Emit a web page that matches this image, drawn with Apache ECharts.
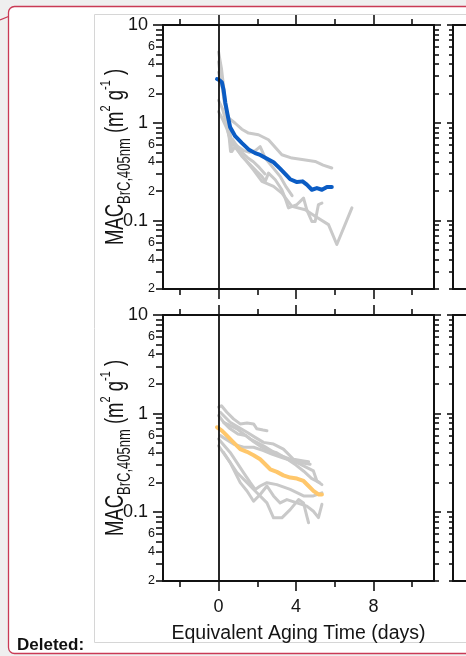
<!DOCTYPE html>
<html><head><meta charset="utf-8">
<script src="https://cdn.jsdelivr.net/npm/echarts@6/dist/echarts.min.js"></script>
<style>html,body{margin:0;padding:0;background:#efefef}#c{width:466px;height:656px}</style>
</head><body><div id="c"></div>
<script>
// ---- tick / label values ----
const xMajorTicks = [0, 4, 8];
const xMinorTicks = [-2, 2, 6, 10];
const yMajorTicks = [0.1, 1, 10];
const yMinorTicks = [0.02,0.03,0.04,0.05,0.06,0.07,0.08,0.09,0.2,0.3,0.4,0.5,0.6,0.7,0.8,0.9,2,3,4,5,6,7,8,9];
const yMinorLabels = [0.02,0.04,0.06,0.2,0.4,0.6,2,4,6];
const xTitle = 'Equivalent Aging Time (days)';

// ---- top panel: individual (grey) and mean (blue) ----
const topMean = [[-0.08,2.8],[0.05,2.72],[0.17,2.6],[0.26,2.17],[0.35,1.6],[0.47,1.2],[0.6,0.9],[0.86,0.73],[1.21,0.62],[1.55,0.535],[1.89,0.49],[2.15,0.47],[2.41,0.44],[2.84,0.395],[3.18,0.34],[3.44,0.3],[3.7,0.265],[4.05,0.248],[4.34,0.252],[4.56,0.233],[4.82,0.207],[5.08,0.215],[5.34,0.207],[5.6,0.221],[5.85,0.221]];
const topGrey1 = [[0,4.2],[0.15,2.6],[0.3,1.6],[0.52,1.12],[0.86,0.99],[1.2,0.86],[1.55,0.785],[2.06,0.755],[2.58,0.671],[3.27,0.471],[3.79,0.436],[4.4,0.42],[4.99,0.403],[5.4,0.37],[5.85,0.345]];
const topGrey2 = [[0,5.3],[0.15,3.6],[0.3,2.0],[0.45,1.0],[0.6,0.645],[0.69,0.51],[0.86,0.573],[1.21,0.453],[1.64,0.373],[1.98,0.318],[2.24,0.283],[2.41,0.252],[2.58,0.306],[2.93,0.262],[3.27,0.207],[3.44,0.17],[3.61,0.135],[4.05,0.146],[4.39,0.17],[4.56,0.129],[4.82,0.098],[4.99,0.098],[5.16,0.146],[5.34,0.151]];
const topGrey3 = [[0,1.3],[0.2,1.1],[0.4,0.9],[0.6,0.7],[0.9,0.55],[1.38,0.419],[1.8,0.33],[2.24,0.252],[2.84,0.224],[3.27,0.191],[3.79,0.14],[4.48,0.129],[4.99,0.111],[5.68,0.091],[6.11,0.057],[6.89,0.135]];
const topGrey4 = [[0,3.3],[0.2,2.3],[0.4,1.4],[0.55,0.85],[0.7,0.62],[0.95,0.58],[1.3,0.52],[1.6,0.5],[1.9,0.52],[2.15,0.57],[2.4,0.44],[2.8,0.35],[3.2,0.28],[3.5,0.22],[3.8,0.18]];
const topGrey5 = [[0,1.7],[0.2,1.4],[0.4,1.0],[0.55,0.7],[0.62,0.51],[0.72,0.68],[0.9,0.6],[1.2,0.5],[1.5,0.44],[1.8,0.4],[2.1,0.35],[2.4,0.3]];

// ---- bottom panel: individual (grey) and mean (orange) ----
const botMean = [[-0.08,0.726],[0.17,0.671],[0.43,0.597],[0.77,0.51],[1.12,0.436],[1.47,0.409],[1.81,0.378],[2.15,0.344],[2.41,0.306],[2.67,0.272],[3.01,0.256],[3.35,0.236],[3.7,0.224],[4.05,0.219],[4.39,0.207],[4.65,0.184],[4.9,0.164],[5.16,0.151],[5.34,0.151]];
const botGrey1 = [[0,1.16],[0.15,1.2],[0.43,1.03],[0.77,0.883],[1.12,0.785],[1.47,0.8],[1.81,0.785],[1.98,0.7],[2.3,0.68],[2.5,0.67]];
const botGrey2 = [[0.09,1.03],[0.6,0.815],[1.03,0.726],[1.47,0.645],[1.89,0.573],[2.32,0.51],[2.84,0.49],[3.35,0.436],[3.87,0.344],[4.39,0.331],[4.65,0.325]];
const botGrey3 = [[0.26,0.815],[0.95,0.7],[1.64,0.552],[2.32,0.471],[3.01,0.388],[3.7,0.344],[4.39,0.294],[4.9,0.262],[5.08,0.207],[5.34,0.19]];
const botGrey4 = [[0,0.552],[0.6,0.403],[0.95,0.318],[1.29,0.252],[1.64,0.199],[1.89,0.17],[2.15,0.184],[2.5,0.199],[3.01,0.19],[3.7,0.17],[4.39,0.146],[4.9,0.146],[5.34,0.157]];
const botGrey5 = [[0,0.471],[0.6,0.318],[1.12,0.199],[1.47,0.164],[1.81,0.129],[2.15,0.151],[2.5,0.184],[2.84,0.146],[3.18,0.124],[3.53,0.134],[4.05,0.124],[4.56,0.115],[4.9,0.102],[5.16,0.088],[5.34,0.12]];
const botGrey6 = [[0.26,0.403],[0.95,0.252],[1.47,0.199],[1.98,0.157],[2.5,0.124],[2.84,0.0875],[3.27,0.0875],[3.7,0.106],[4.13,0.134],[4.39,0.124],[4.56,0.091],[4.65,0.078]];
const botGrey7 = [[0.09,0.597],[0.77,0.49],[1.29,0.455],[1.81,0.455],[2.32,0.42],[2.75,0.388],[3.27,0.358],[3.79,0.331],[4.22,0.318],[4.73,0.306]];
const botGrey8 = [[0,0.955],[0.3,0.8],[0.6,0.7],[1.0,0.62],[1.4,0.6],[1.8,0.52],[2.2,0.46],[2.6,0.42],[3.0,0.4],[3.5,0.35],[4.0,0.3],[4.4,0.26],[4.8,0.22],[5.2,0.2]];

// ---- styling ----
const FONT = 'Liberation Sans, Arial, sans-serif';
const AX = '#111';
const TXT = '#141414';
const GREY = '#c9c9c9';
const BLUE = '#0b5cc4';
const ORANGE = '#ffc76b';
const RED = '#c93a55';
const X_MIN = -2.87, X_MAX = 11.13;
const Y_MIN = 0.02, Y_MAX = 10;

const grids = [
  {left:163, top:25, width:271, height:264},
  {left:163, top:315, width:271, height:266},
  {left:453, top:25, width:120, height:264},
  {left:453, top:315, width:120, height:266}
];

const xAxes = [], yAxes = [];
function addX(g, pos, ticks, len, line, labels, extra) {
  xAxes.push(Object.assign({
    type:'value', gridIndex:g, position:pos, min:X_MIN, max:X_MAX,
    axisLine:{show:line, onZero:false, lineStyle:{color:AX, width:2}},
    axisTick:{show:ticks.length>0, customValues:ticks.length?ticks:undefined, length:len, inside:false, lineStyle:{color:AX, width:1.6}},
    axisLabel:labels ? {show:true, customValues:labels, fontSize:18, color:TXT, fontFamily:FONT, margin:17} : {show:false},
    splitLine:{show:false}
  }, extra||{}));
  return xAxes.length-1;
}
function addY(g, pos, ticks, len, line, labels, lab) {
  yAxes.push({
    type:'log', logBase:10, gridIndex:g, position:pos, min:Y_MIN, max:Y_MAX,
    axisLine:{show:line, onZero:false, lineStyle:{color:AX, width:2}},
    axisTick:{show:true, customValues:ticks, length:len, inside:false, lineStyle:{color:AX, width:1.6}},
    axisLabel:labels ? Object.assign({show:true, customValues:labels, color:TXT, fontFamily:FONT}, lab) : {show:false},
    splitLine:{show:false}, minorTick:{show:false}
  });
  return yAxes.length-1;
}
const majorFmt = v => String(+v.toPrecision(3));
const minorFmt = v => String(Math.round(v / Math.pow(10, Math.floor(Math.log10(v) + 1e-9))));

const panelAxes = [];
[0,1].forEach(g => {
  const xb = addX(g, 'bottom', xMajorTicks, 10, true, g===1 ? xMajorTicks : null,
    g===1 ? {name:xTitle, nameLocation:'middle', nameGap:43, nameTextStyle:{fontSize:19.5, color:TXT, fontFamily:FONT}} : null);
  addX(g, 'bottom', xMinorTicks, 6, false, null);
  addX(g, 'top', xMajorTicks, 10, true, null);
  addX(g, 'top', xMinorTicks, 6, false, null);
  const yl = addY(g, 'left', yMajorTicks, 10, true, yMajorTicks, {fontSize:18, margin:15, formatter:majorFmt});
  addY(g, 'left', yMinorTicks, 7, false, yMinorLabels, {fontSize:12.5, margin:8, formatter:minorFmt});
  addY(g, 'right', yMajorTicks, 7, true, null);
  addY(g, 'right', yMinorTicks, 5, false, null);
  panelAxes.push({x:xb, y:yl});
});
[2,3].forEach(g => {
  addX(g, 'bottom', [], 0, true, null);
  addX(g, 'top', [], 0, true, null);
  addY(g, 'left', yMajorTicks, 6, true, null);
  addY(g, 'left', yMinorTicks, 4, false, null);
});

const series = [];
function addLine(p, data, color, width, z, mark) {
  const s = {type:'line', xAxisIndex:panelAxes[p].x, yAxisIndex:panelAxes[p].y, data:data,
    showSymbol:false, symbol:'none', silent:true, z:z,
    lineStyle:{color:color, width:width, join:'round', cap:'round'}};
  if (mark) s.markLine = {silent:true, symbol:'none', label:{show:false},
    lineStyle:{color:AX, width:1.8, type:'solid'}, data:[{xAxis:0}]};
  series.push(s);
}
[topGrey1, topGrey2, topGrey3, topGrey4, topGrey5].forEach((d,i) => addLine(0, d, GREY, 3, 2, i===0));
addLine(0, topMean, BLUE, 4, 3);
[botGrey1, botGrey2, botGrey3, botGrey4, botGrey5, botGrey6, botGrey7, botGrey8].forEach((d,i) => addLine(1, d, GREY, 3, 2, i===0));
addLine(1, botMean, ORANGE, 4, 3);

function yTitle(cy) {
  return {type:'text', x:116, y:cy, rotation:Math.PI/2, scaleY:1.4, z:50,
    style:{text:'{a|MAC}{b|BrC,405nm}{a| (m}{c|2}{a| g}{c|-1}{a| )}', align:'center', verticalAlign:'middle',
      rich:{a:{fontSize:18.5, lineHeight:26, fontFamily:FONT, fill:TXT},
            b:{fontSize:13, lineHeight:18, verticalAlign:'bottom', fontFamily:FONT, fill:TXT},
            c:{fontSize:11, lineHeight:11, verticalAlign:'top', fontFamily:FONT, fill:TXT}}}};
}

const chart = echarts.init(document.getElementById('c'), null, {renderer:'canvas'});
chart.setOption({
  backgroundColor:'#efefef',
  animation:false,
  grid:grids.map(g => Object.assign({outerBoundsMode:'none', containLabel:false}, g)),
  xAxis:xAxes, yAxis:yAxes, series:series,
  graphic:[
    {type:'rect', z:-10, shape:{x:8.5, y:6.5, width:480, height:647, r:6}, style:{fill:'#fff', stroke:RED, lineWidth:1.3}},
    {type:'polyline', z:-10, shape:{points:[[0,20],[8.5,16.5]]}, style:{stroke:RED, lineWidth:1.3, fill:null}},
    {type:'rect', z:-9, shape:{x:94.5, y:14.5, width:400, height:628}, style:{fill:'#fff', stroke:'#d6d6d6', lineWidth:1}},
    yTitle(157), yTitle(448),
    {type:'text', z:50, x:17, y:645, style:{text:'Deleted:', font:'bold 17px Liberation Sans, Arial, sans-serif', fill:'#111', align:'left', verticalAlign:'middle'}}
  ]
});
</script></body></html>
